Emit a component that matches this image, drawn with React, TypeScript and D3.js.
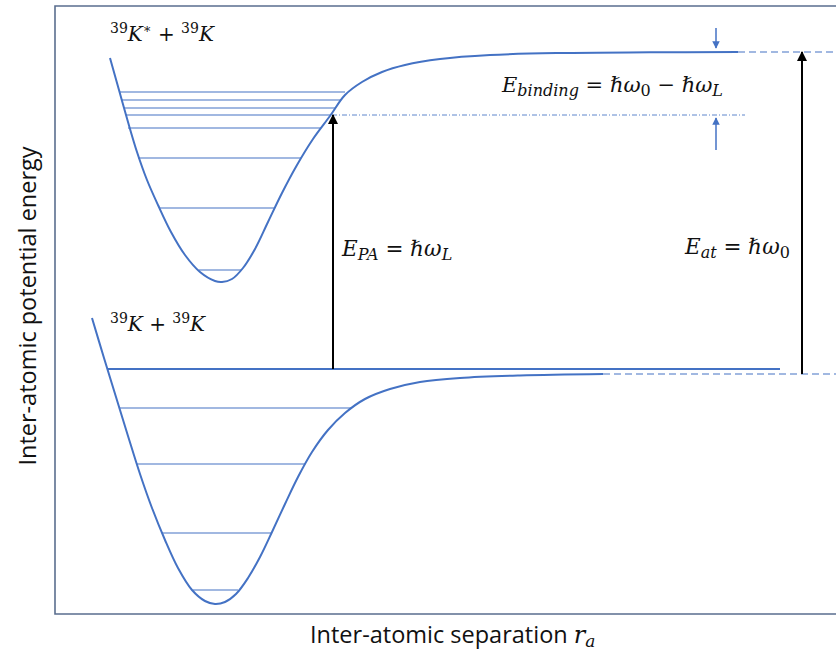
import React from 'react';
import * as d3 from 'd3';

const W = 836;
const H = 652;

// data units: r = inter-atomic separation, E = potential energy (arbitrary units)
const excitedCurve: [number, number][] = [
  [5.5, 55.6], [6.4, 52.4], [7.3, 49.2], [8.2, 46.2], [9.2, 43.4], [10.3, 40.9],
  [11.6, 38.2], [13.0, 35.9], [14.5, 34.2], [16.0, 33.3], [16.7, 33.2], [17.7, 33.5],
  [18.8, 34.6], [20.0, 36.5], [21.3, 39.2], [22.7, 42.1], [24.2, 44.9], [25.8, 47.5],
  [27.5, 49.8], [29.0, 51.9], [30.7, 53.2], [32.7, 54.2], [35.0, 54.9], [38.5, 55.5],
  [43.5, 55.9], [50.5, 56.1], [59.5, 56.17], [68.3, 56.2],
];
const groundCurve: [number, number][] = [
  [3.7, 29.6], [4.9, 25.6], [6.1, 21.7], [7.3, 17.8], [8.5, 14.0], [9.7, 10.6],
  [11.0, 7.4], [12.3, 4.6], [13.7, 2.4], [15.0, 1.3], [16.0, 1.0], [17.0, 1.2],
  [18.1, 2.0], [19.3, 3.6], [20.5, 5.7], [21.7, 8.2], [23.0, 11.0], [24.3, 13.7],
  [25.7, 16.2], [27.3, 18.4], [29.0, 20.1], [31.0, 21.5], [33.5, 22.5], [36.5, 23.2],
  [40.5, 23.6], [46.5, 23.85], [54.8, 24.0],
];
const excitedLevels = [
  { E: 52.2, r0: 6.5, r1: 29.0 },
  { E: 51.4, r0: 6.7, r1: 28.6 },
  { E: 50.6, r0: 6.9, r1: 28.1 },
  { E: 49.9, r0: 7.1, r1: 27.6 },
  { E: 48.6, r0: 7.3, r1: 26.6 },
  { E: 45.6, r0: 8.3, r1: 24.6 },
  { E: 40.6, r0: 10.4, r1: 22.0 },
  { E: 34.4, r0: 14.4, r1: 18.6 },
];
const groundLevels = [
  { E: 20.6, r0: 6.45, r1: 29.7 },
  { E: 15.0, r0: 8.2, r1: 25.0 },
  { E: 8.1, r0: 10.7, r1: 21.7 },
  { E: 2.4, r0: 13.8, r1: 18.3 },
];
const continuumLevel = { E: 24.5, r0: 5.25, r1: 72.5 };
const excitedAsymptote = { E: 56.2, r0: 68.3, r1: 78.1 };
const groundAsymptote = { E: 24.0, r0: 54.8, r1: 78.1 };
const paLevel = { E: 49.9, r0: 27.7, r1: 69.0 };
const paArrow = { r: 27.8, E0: 24.5, E1: 49.9 };
const atArrow = { r: 74.7, E0: 24.0, E1: 56.2 };
const bindDown = { r: 66.1, E0: 58.6, E1: 56.6 };
const bindUp = { r: 66.1, E0: 46.4, E1: 49.6 };

const x = d3.scaleLinear().domain([0, 78.1]).range([55, 836]);
const y = d3.scaleLinear().domain([0, 60.8]).range([614, 6]);

const BLUE = '#4472c4';
const MATH = "'DejaVu Serif', serif";
const SANS = "'Open Sans', 'Noto Sans', sans-serif";

type Seg = { t: string; it?: boolean; s?: number; sh?: number };

function Rich({ px, py, segs, size }: { px: number; py: number; segs: Seg[]; size: number }) {
  let prev = 0;
  return (
    <text x={px} y={py} fontFamily={MATH} fontSize={size} fill="#111">
      {segs.map((sg, i) => {
        const sh = sg.sh ?? 0;
        const dy = sh - prev;
        prev = sh;
        return (
          <tspan key={i} dy={dy} fontStyle={sg.it ? 'italic' : 'normal'} fontSize={sg.s ?? size}>
            {sg.t}
          </tspan>
        );
      })}
    </text>
  );
}

export default function App() {
  const line = d3.line<[number, number]>().x((d) => x(d[0])).y((d) => y(d[1])).curve(d3.curveCatmullRom.alpha(0.5));
  const hl = (l: { E: number; r0: number; r1: number }) => ({ x1: x(l.r0), x2: x(l.r1), y1: y(l.E), y2: y(l.E) });
  const frame = `M${x(78.1)},${y(60.8)}H${x(0)}V${y(0)}H${x(78.1)}`;

  return (
    <svg width={W} height={H} style={{ position: 'absolute', left: 0, top: 0, background: '#fff' }}>
      <defs>
        <marker id="ahB" viewBox="0 0 10 10" refX="9" refY="5" markerWidth="5" markerHeight="5" orient="auto" markerUnits="strokeWidth">
          <path d="M0,0L10,5L0,10z" fill="#000" />
        </marker>
        <marker id="ahBlue" viewBox="0 0 10 10" refX="9" refY="5" markerWidth="5" markerHeight="5" orient="auto" markerUnits="strokeWidth">
          <path d="M0,0L10,5L0,10z" fill={BLUE} />
        </marker>
      </defs>
      <path d={frame} fill="none" stroke="#5a6e8e" strokeWidth={1.6} />

      {excitedLevels.map((l, i) => (
        <line key={'e' + i} {...hl(l)} stroke={BLUE} strokeWidth={1.1} />
      ))}
      {groundLevels.map((l, i) => (
        <line key={'g' + i} {...hl(l)} stroke={BLUE} strokeWidth={1.1} />
      ))}
      <line {...hl(continuumLevel)} stroke={BLUE} strokeWidth={2} />
      <line {...hl(excitedAsymptote)} stroke={BLUE} strokeWidth={1.1} strokeDasharray="7,4" />
      <line {...hl(groundAsymptote)} stroke={BLUE} strokeWidth={1.1} strokeDasharray="7,4" />
      <line {...hl(paLevel)} stroke={BLUE} strokeWidth={1} strokeDasharray="5,2,1,2" opacity={0.85} />

      <path d={line(excitedCurve) ?? ''} fill="none" stroke={BLUE} strokeWidth={2} />
      <path d={line(groundCurve) ?? ''} fill="none" stroke={BLUE} strokeWidth={2} />

      <line x1={x(paArrow.r)} x2={x(paArrow.r)} y1={y(paArrow.E0)} y2={y(paArrow.E1)} stroke="#000" strokeWidth={2} markerEnd="url(#ahB)" />
      <line x1={x(atArrow.r)} x2={x(atArrow.r)} y1={y(atArrow.E0)} y2={y(atArrow.E1)} stroke="#000" strokeWidth={2} markerEnd="url(#ahB)" />
      <line x1={x(bindDown.r)} x2={x(bindDown.r)} y1={y(bindDown.E0)} y2={y(bindDown.E1)} stroke={BLUE} strokeWidth={1.5} markerEnd="url(#ahBlue)" />
      <line x1={x(bindUp.r)} x2={x(bindUp.r)} y1={y(bindUp.E0)} y2={y(bindUp.E1)} stroke={BLUE} strokeWidth={1.5} markerEnd="url(#ahBlue)" />

      <Rich px={110} py={41} size={20} segs={[
        { t: '39', s: 14, sh: -8 }, { t: 'K', it: true }, { t: '∗', s: 13, sh: -8 }, { t: ' + ' },
        { t: '39', s: 14, sh: -8 }, { t: 'K', it: true },
      ]} />
      <Rich px={110} py={331} size={20} segs={[
        { t: '39', s: 14, sh: -8 }, { t: 'K', it: true }, { t: ' + ' },
        { t: '39', s: 14, sh: -8 }, { t: 'K', it: true },
      ]} />
      <Rich px={502} py={92} size={21} segs={[
        { t: 'E', it: true }, { t: 'binding', it: true, s: 16, sh: 4 }, { t: ' =  ' },
        { t: 'ℏω', it: true }, { t: '0', s: 16, sh: 4 }, { t: ' − ' }, { t: 'ℏω', it: true },
        { t: 'L', it: true, s: 16, sh: 4 },
      ]} />
      <Rich px={342} py={256} size={21.5} segs={[
        { t: 'E', it: true }, { t: 'PA', it: true, s: 16, sh: 4 }, { t: ' =  ' },
        { t: 'ℏω', it: true }, { t: 'L', it: true, s: 16, sh: 4 },
      ]} />
      <Rich px={685} py={254} size={21.5} segs={[
        { t: 'E', it: true }, { t: 'at', it: true, s: 16, sh: 4 }, { t: ' =  ' },
        { t: 'ℏω', it: true }, { t: '0', s: 16, sh: 4 },
      ]} />

      <text x={310} y={643} fontFamily={SANS} fontSize={23.5} fill="#111">
        Inter-atomic separation{' '}
        <tspan fontFamily={MATH} fontStyle="italic" fontSize={24}>r</tspan>
        <tspan fontFamily={MATH} fontStyle="italic" fontSize={17} dy={4}>a</tspan>
      </text>
      <text transform={`translate(36,306) rotate(-90)`} textAnchor="middle" fontFamily={SANS} fontSize={23.5} fill="#111">
        Inter-atomic potential energy
      </text>
    </svg>
  );
}
